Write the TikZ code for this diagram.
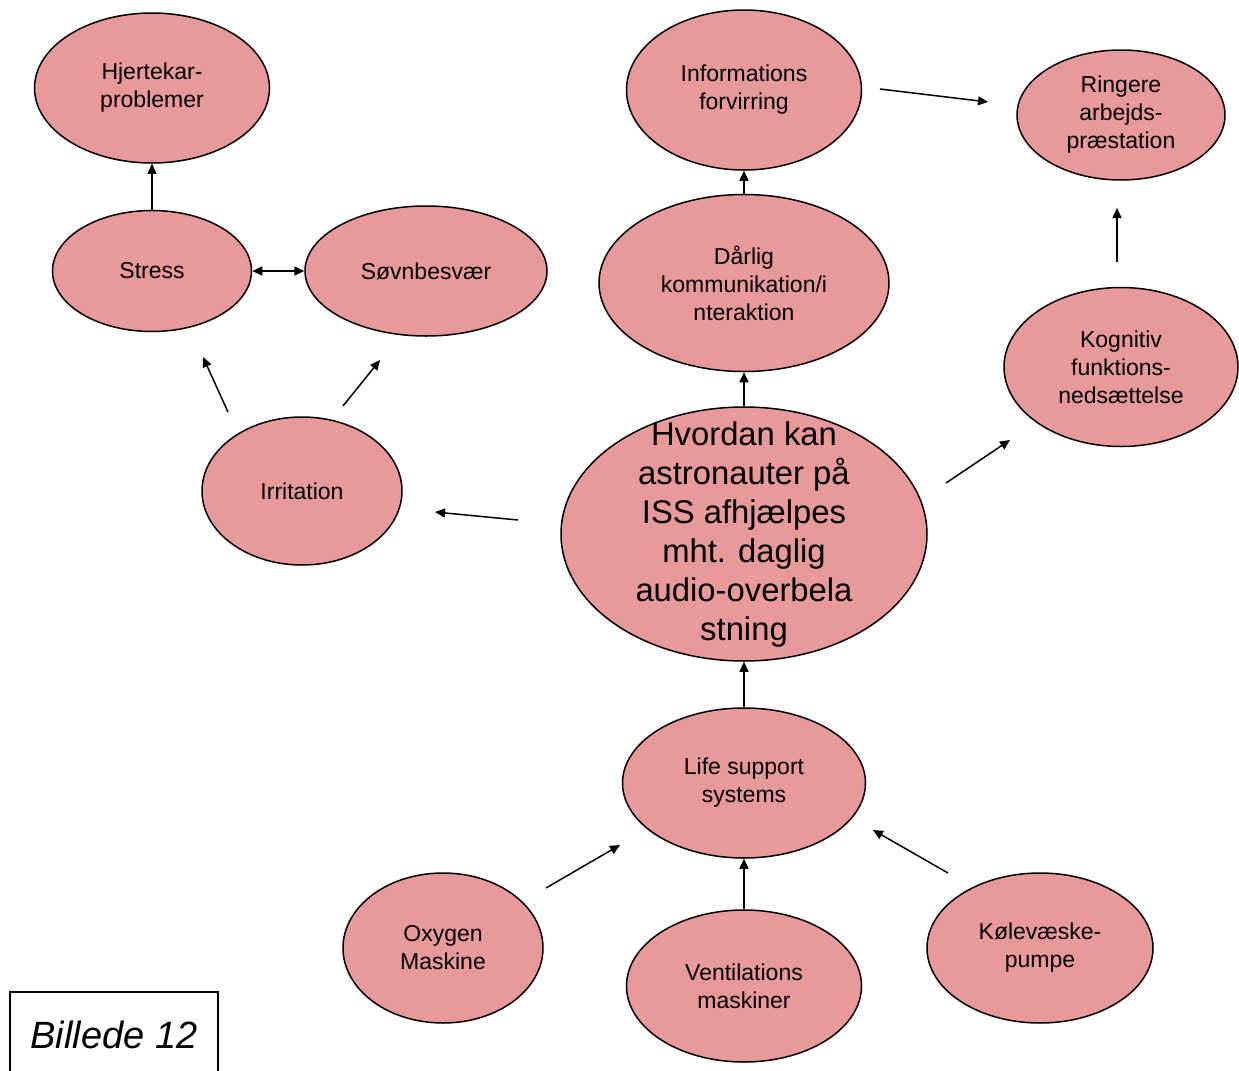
\documentclass[tikz,border=0pt]{standalone}
\usepackage{fontspec}
\setmainfont{Liberation Sans}
\usetikzlibrary{shapes.geometric,arrows.meta}
\definecolor{nodefill}{RGB}{232,153,154}
\begin{document}
\begin{tikzpicture}[x=0.5pt,y=-0.5pt,
  bubble/.style={ellipse,draw=black,line width=0.75pt,fill=nodefill,inner sep=0pt,align=center,
    font=\fontsize{11.5}{14}\selectfont},
  conn/.style={line width=0.75pt,-{Triangle[length=5pt,width=4.5pt]}},
  conntwo/.style={line width=0.75pt,{Triangle[length=5pt,width=4.5pt]}-{Triangle[length=5pt,width=4.5pt]}},
]
\useasboundingbox (0,0) rectangle (1239,1071);

% nodes
\node[bubble,minimum width=117.5pt,minimum height=75pt] (hjerte) at (152,88) {Hjertekar-\\problemer};
\node[bubble,minimum width=99.5pt,minimum height=60.5pt] (stress) at (152,271) {Stress};
\node[bubble,minimum width=121pt,minimum height=65pt] (sovn) at (426,271) {Søvnbesvær};
\node[bubble,minimum width=100pt,minimum height=74pt] (irr) at (302,491) {Irritation};
\node[bubble,minimum width=117.5pt,minimum height=80pt] (info) at (744,90) {Informations\\forvirring};
\node[bubble,minimum width=104pt,minimum height=65pt] (ringere) at (1121,115) {Ringere\\arbejds-\\præstation};
\node[bubble,minimum width=145pt,minimum height=88.5pt] (darlig) at (744,283) {Dårlig\\kommunikation/i\\nteraktion};
\node[bubble,minimum width=117pt,minimum height=79.5pt] (kog) at (1121,367) {Kognitiv\\funktions-\\nedsættelse};
\node[bubble,minimum width=183pt,minimum height=127pt] (central) at (744,534) {};
\node[align=center,inner sep=0pt,font=\fontsize{16.4}{19.5}\selectfont] (centraltext) at (744,535)
  {Hvordan kan\\astronauter på\\ISS afhjælpes\\mht. daglig\\audio-overbela\\stning};
\node[bubble,minimum width=121.5pt,minimum height=75pt] (life) at (744,783) {Life support\\systems};
\node[bubble,minimum width=100pt,minimum height=75pt] (oxy) at (443,948) {Oxygen\\Maskine};
\node[bubble,minimum width=117.5pt,minimum height=76pt] (vent) at (744,986) {Ventilations\\maskiner};
\node[bubble,minimum width=113pt,minimum height=75pt] (kol) at (1040,948) {Kølevæske-\\pumpe};

% caption box
\node[inner sep=0pt,font=\fontsize{19}{22}\selectfont\itshape] (billede) at (114,1035) {Billede 12};
\draw[line width=1pt] (10,1071) |- (218,992) -- (218,1071);

% free arrow ends
\coordinate (irrA) at (228,412); \coordinate (stressA) at (203,357);
\coordinate (irrB) at (343,406); \coordinate (sovnB) at (380,360);
\coordinate (cenC) at (518,520); \coordinate (irrC) at (435,512);
\coordinate (infoD) at (880,89); \coordinate (ringD) at (988,102);
\coordinate (kogE) at (1117,262); \coordinate (ringE) at (1117,208);
\coordinate (cenF) at (946,483); \coordinate (kogF) at (1010,440);
\coordinate (oxyG) at (546,888); \coordinate (lifeG) at (620,845);
\coordinate (kolH) at (948,873); \coordinate (lifeH) at (873,830);

% connectors
\draw[conn] (stress) -- (hjerte);
\draw[conntwo] (stress) -- (sovn);
\draw[conn] (irrA) -- (stressA);
\draw[conn] (irrB) -- (sovnB);
\draw[conn] (cenC) -- (irrC);
\draw[conn] (central) -- (darlig);
\draw[conn] (darlig) -- (info);
\draw[conn] (infoD) -- (ringD);
\draw[conn] (kogE) -- (ringE);
\draw[conn] (cenF) -- (kogF);
\draw[conn] (life) -- (central);
\draw[conn] (vent) -- (life);
\draw[conn] (oxyG) -- (lifeG);
\draw[conn] (kolH) -- (lifeH);
\end{tikzpicture}
\end{document}
